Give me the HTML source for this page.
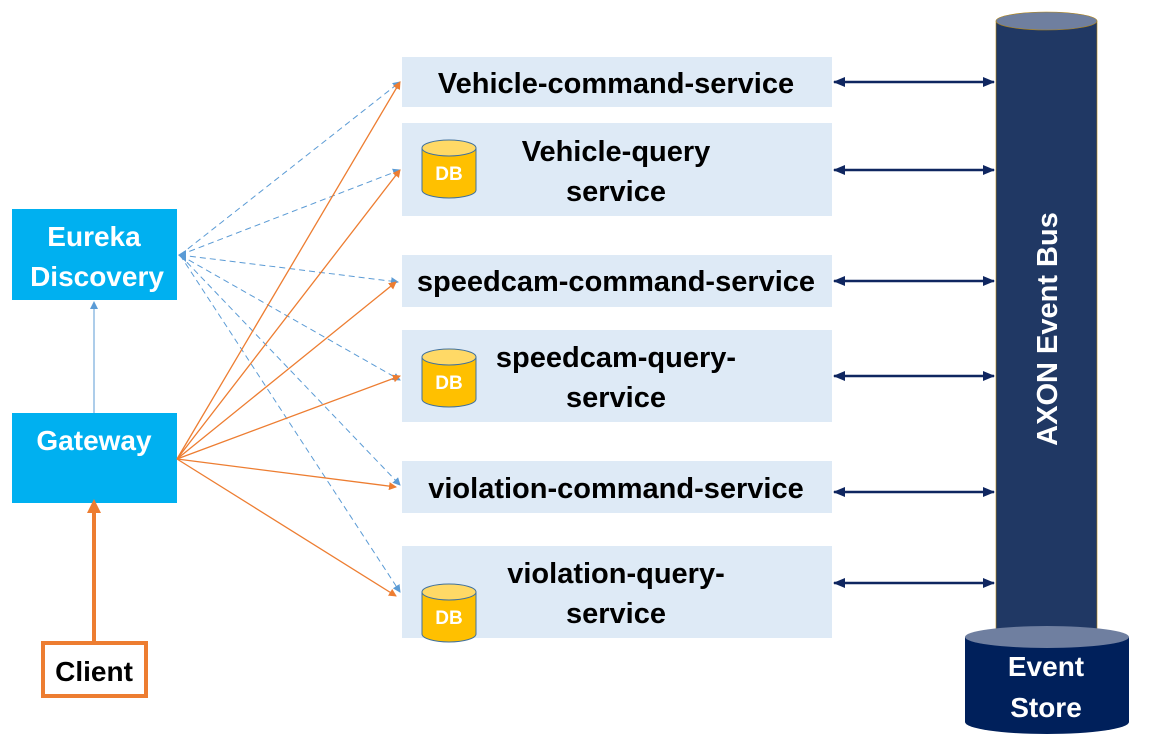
<!DOCTYPE html>
<html><head><meta charset="utf-8"><style>body{margin:0;background:#fff}svg{display:block}text{font-family:"Liberation Sans",sans-serif;font-weight:bold}</style></head><body>
<svg width="1159" height="753" viewBox="0 0 1159 753" xmlns="http://www.w3.org/2000/svg">
<defs>
<marker id="ob" markerWidth="8" markerHeight="8" refX="7" refY="4" orient="auto" markerUnits="userSpaceOnUse"><path d="M0,0 L8,4 L0,8 z" fill="#ED7D31"/></marker>
<marker id="bb" markerWidth="8" markerHeight="8" refX="7" refY="4" orient="auto" markerUnits="userSpaceOnUse"><path d="M0,0 L8,4 L0,8 z" fill="#5B9BD5"/></marker>
<marker id="nb" markerWidth="12" markerHeight="10" refX="11" refY="5" orient="auto-start-reverse" markerUnits="userSpaceOnUse"><path d="M0,0 L12,5 L0,10 z" fill="#0F2660"/></marker>
<marker id="oc" markerWidth="14" markerHeight="14" refX="7" refY="7" orient="auto" markerUnits="userSpaceOnUse"><path d="M0,0 L14,7 L0,14 z" fill="#ED7D31"/></marker>
<g id="db"><path d="M0,8 L0,50 A27,8 0 0 0 54,50 L54,8" fill="#FFC000" stroke="#41719C" stroke-width="1"/><ellipse cx="27" cy="8" rx="27" ry="8" fill="#FFD966" stroke="#41719C" stroke-width="1"/><text x="27" y="40" text-anchor="middle" fill="#fff" font-size="19">DB</text></g>
</defs>
<g fill="#DEEAF6">
<rect x="402" y="57" width="430" height="50"/>
<rect x="402" y="123" width="430" height="93"/>
<rect x="402" y="255" width="430" height="52"/>
<rect x="402" y="330" width="430" height="92"/>
<rect x="402" y="461" width="430" height="52"/>
<rect x="402" y="546" width="430" height="92"/>
</g>
<use href="#db" x="422" y="140"/>
<use href="#db" x="422" y="349"/>
<use href="#db" x="422" y="584"/>
<g font-size="29" text-anchor="middle" fill="#000">
<text x="616" y="93">Vehicle-command-service</text>
<text x="616" y="161">Vehicle-query</text><text x="616" y="201">service</text>
<text x="616" y="291">speedcam-command-service</text>
<text x="616" y="367">speedcam-query-</text><text x="616" y="407">service</text>
<text x="616" y="498">violation-command-service</text>
<text x="616" y="583">violation-query-</text><text x="616" y="623">service</text>
</g>
<rect x="12" y="209" width="165" height="91" fill="#00B0F0"/>
<rect x="12" y="413" width="165" height="90" fill="#00B0F0"/>
<g font-size="28" fill="#fff" text-anchor="middle"><text x="94" y="246">Eureka</text><text x="97" y="286">Discovery</text><text x="94" y="450">Gateway</text></g>
<rect x="43" y="643" width="103" height="53" fill="#fff" stroke="#ED7D31" stroke-width="4"/>
<text x="94" y="681" font-size="28" text-anchor="middle">Client</text>
<line x1="94" y1="641" x2="94" y2="506" stroke="#ED7D31" stroke-width="4" marker-end="url(#oc)"/>
<line x1="94" y1="413" x2="94" y2="302" stroke="#5B9BD5" stroke-width="1" marker-end="url(#bb)"/>
<g stroke="#5B9BD5" stroke-width="1" stroke-dasharray="6,4" fill="none" marker-end="url(#bb)">
<line x1="180" y1="255" x2="400" y2="82"/>
<line x1="180" y1="255" x2="400" y2="170"/>
<line x1="180" y1="255" x2="398" y2="282"/>
<line x1="180" y1="255" x2="400" y2="380"/>
<line x1="180" y1="255" x2="400" y2="485"/>
<line x1="180" y1="255" x2="400" y2="592"/>
</g>
<path d="M178,255 L186,250 L186,262 z" fill="#5B9BD5"/>
<g stroke="#ED7D31" stroke-width="1.3" fill="none" marker-end="url(#ob)">
<line x1="177" y1="459" x2="400" y2="82"/>
<line x1="177" y1="459" x2="400" y2="170"/>
<line x1="177" y1="459" x2="396" y2="282"/>
<line x1="177" y1="459" x2="400" y2="376"/>
<line x1="177" y1="459" x2="396" y2="487"/>
<line x1="177" y1="459" x2="396" y2="596"/>
</g>
<g stroke="#0F2660" stroke-width="2.5" marker-start="url(#nb)" marker-end="url(#nb)">
<line x1="834" y1="82" x2="994" y2="82"/>
<line x1="834" y1="170" x2="994" y2="170"/>
<line x1="834" y1="281" x2="994" y2="281"/>
<line x1="834" y1="376" x2="994" y2="376"/>
<line x1="834" y1="492" x2="994" y2="492"/>
<line x1="834" y1="583" x2="994" y2="583"/>
</g>
<rect x="996" y="21" width="101" height="615" fill="#203864" stroke="#B8860B" stroke-width="0.6"/>
<ellipse cx="1046.5" cy="21" rx="50.5" ry="9" fill="#6F7F9F" stroke="#B8860B" stroke-width="0.6"/>
<text transform="translate(1057,329) rotate(-90)" text-anchor="middle" fill="#fff" font-size="29">AXON Event Bus</text>
<path d="M965,637 L965,722 A82,12 0 0 0 1129,722 L1129,637 z" fill="#00205B"/>
<ellipse cx="1047" cy="637" rx="82" ry="11" fill="#6F7FA0"/>
<g font-size="28" fill="#fff" text-anchor="middle"><text x="1046" y="676">Event</text><text x="1046" y="717">Store</text></g>
</svg>
</body></html>
